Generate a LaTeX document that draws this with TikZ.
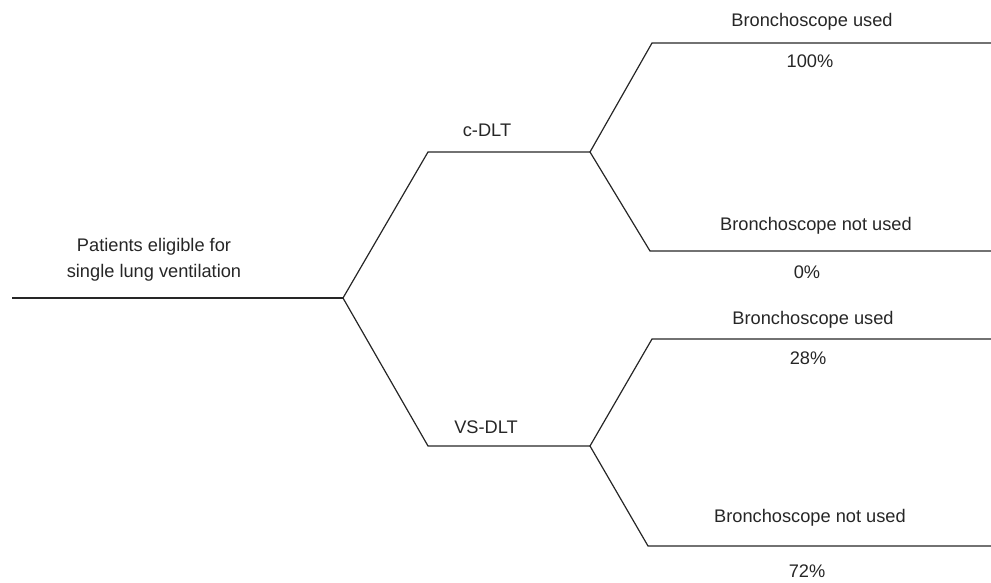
\documentclass[tikz,border=0pt]{standalone}
\usepackage{fontspec}
\setmainfont{Liberation Sans}
\begin{document}
\begin{tikzpicture}[x=1bp,y=-1bp,
  branch/.style={line width=1.2bp, draw=black!85},
  lbl/.style={inner sep=0pt, text=black!85, font=\fontsize{18.3}{22}\selectfont, align=center}]
\useasboundingbox (0,0) rectangle (991,583);
% coordinates
\coordinate (r0) at (12,298);
\coordinate (b0) at (343,298);
\coordinate (c1) at (428,152);
\coordinate (c2) at (590,152);
\coordinate (v1) at (428,446);
\coordinate (v2) at (590,446);
\coordinate (cu1) at (652,43);
\coordinate (cu2) at (991,43);
\coordinate (cn1) at (650,251);
\coordinate (cn2) at (991,251);
\coordinate (vu1) at (652,339);
\coordinate (vu2) at (991,339);
\coordinate (vn1) at (648,546);
\coordinate (vn2) at (991,546);
% lines
\draw[branch] (r0) -- (b0);
\draw[branch] (c2) -- (c1) -- (b0) -- (v1) -- (v2);
\draw[branch] (cu2) -- (cu1) -- (c2) -- (cn1) -- (cn2);
\draw[branch] (vu2) -- (vu1) -- (v2) -- (vn1) -- (vn2);
% labels
\node[lbl] (root) at (154,260) {Patients eligible for\\[4bp]single lung ventilation};
\node[lbl] (cdlt) at (487,130) {c-DLT};
\node[lbl] (vsdlt) at (486,427) {VS-DLT};
\node[lbl] (t1) at (812,22) {Bronchoscope used};
\node[lbl] (p1) at (810,61) {100\%};
\node[lbl] (t2) at (816,226) {Bronchoscope not used};
\node[lbl] (p2) at (807,272) {0\%};
\node[lbl] (t3) at (813,320) {Bronchoscope used};
\node[lbl] (p3) at (808,358) {28\%};
\node[lbl] (t4) at (810,518) {Bronchoscope not used};
\node[lbl] (p4) at (807,571) {72\%};
\end{tikzpicture}
\end{document}
